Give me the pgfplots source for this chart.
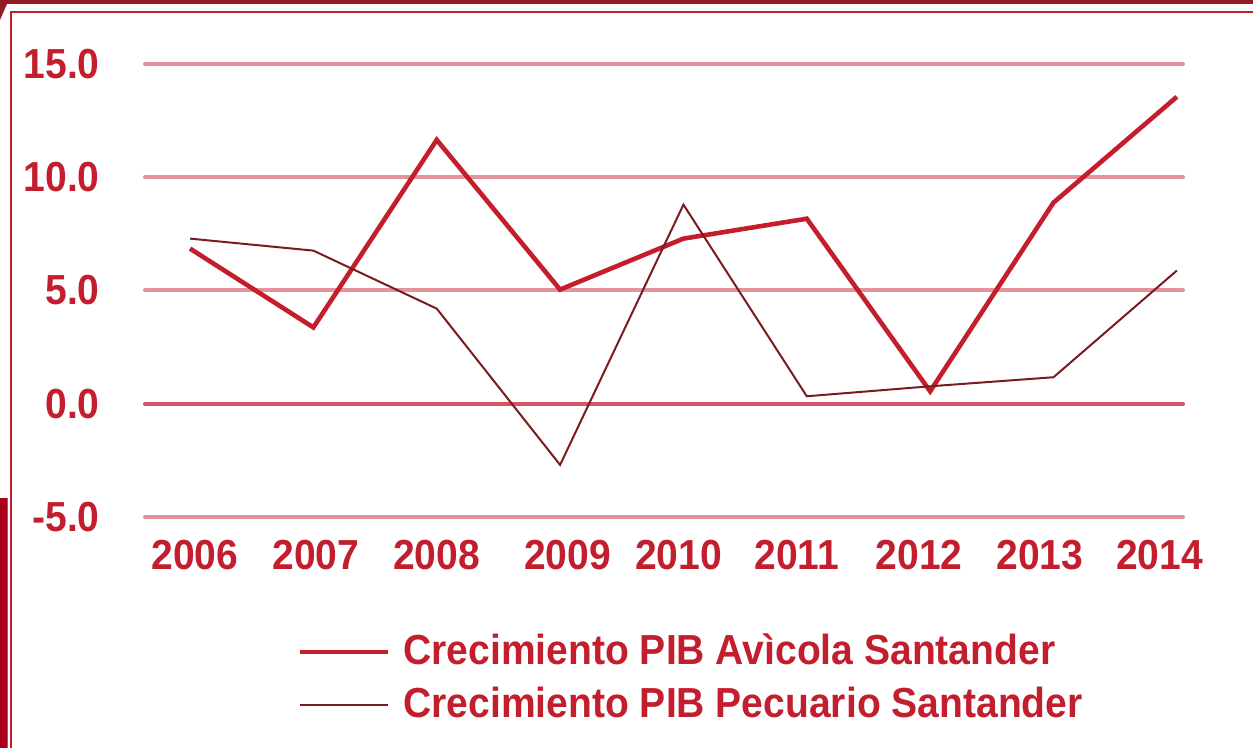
\documentclass[border=0pt]{standalone}
\usepackage{fontspec}
\setmainfont{Liberation Sans}[FakeStretch=0.93]
\usepackage{pgfplots}
\pgfplotsset{compat=1.18}
\definecolor{txtred}{HTML}{C21E2D}
\definecolor{avic}{HTML}{C41D2C}
\definecolor{pecu}{HTML}{7A1B20}
\definecolor{gridc}{HTML}{E2939C}
\definecolor{zeroc}{HTML}{D25664}
\definecolor{darkbar}{HTML}{931D26}
\definecolor{leftbar}{HTML}{A8001A}
\begin{document}
\begin{tikzpicture}
\useasboundingbox (0,0) rectangle (626.5pt,374pt);
% frame
\fill[darkbar] (0,372pt) rectangle (626.5pt,374pt);
\fill[darkbar] (0,372pt) -- (3.5pt,372pt) -- (0,364pt) -- cycle;
\draw[avic, line width=1pt] (626.5pt,367.8pt) -- (5.5pt,367.8pt) -- (5.5pt,0);
\fill[leftbar] (0,0) rectangle (3.5pt,125pt);
\fill[avic!80] (3.5pt,0) rectangle (4.2pt,125pt);
\begin{axis}[
  at={(72.5pt,115.5pt)}, anchor=south west,
  scale only axis, width=519pt, height=226.5pt,
  xmin=-0.365, xmax=8.05, ymin=-5, ymax=15,
  axis line style={draw=none}, tick style={draw=none}, major tick length=0pt,
  ymajorgrids=true,
  grid style={line width=2pt, color=gridc, line cap=round},
  ytick={-5,5,10,15}, yticklabels={-5.0,5.0,10.0,15.0},
  extra y ticks={0}, extra y tick labels={0.0},
  extra y tick style={grid style={line width=2pt, color=zeroc, line cap=round}},
  xtick={0.04,1.02,2.0,3.06,3.96,4.92,5.91,6.89,7.86},
  xticklabels={2006,2007,2008,2009,2010,2011,2012,2013,2014},
  every tick label/.append style={font=\fontsize{21}{25}\selectfont\bfseries, text=txtred},
  yticklabel style={anchor=east, inner sep=0pt, xshift=-22.5pt},
  xticklabel style={anchor=north, inner sep=0pt, yshift=-11.5pt},
  clip=false,
]
\addplot[avic, line width=2.3pt, line join=miter] coordinates {
(0,6.85) (1,3.37) (2,11.65) (3,5.04) (4,7.29) (5,8.17) (6,0.55) (7,8.88) (8,13.55)};
\addplot[pecu, line width=1pt, line join=miter] coordinates {
(0,7.29) (1,6.76) (2,4.2) (3,-2.7) (4,8.79) (5,0.33) (6,0.77) (7,1.17) (8,5.88)};
\end{axis}
% legend
\draw[avic, line width=2.3pt] (150pt,48pt) -- (194pt,48pt);
\draw[pecu, line width=1pt] (150pt,21.5pt) -- (194pt,21.5pt);
\node[anchor=base west, inner sep=0pt, text=txtred, font=\fontsize{21}{25}\selectfont\bfseries] at (201.5pt,41.5pt) {Crecimiento PIB Avìcola Santander};
\node[anchor=base west, inner sep=0pt, text=txtred, font=\fontsize{21}{25}\selectfont\bfseries] at (201.5pt,15pt) {Crecimiento PIB Pecuario Santander};
\end{tikzpicture}
\end{document}
